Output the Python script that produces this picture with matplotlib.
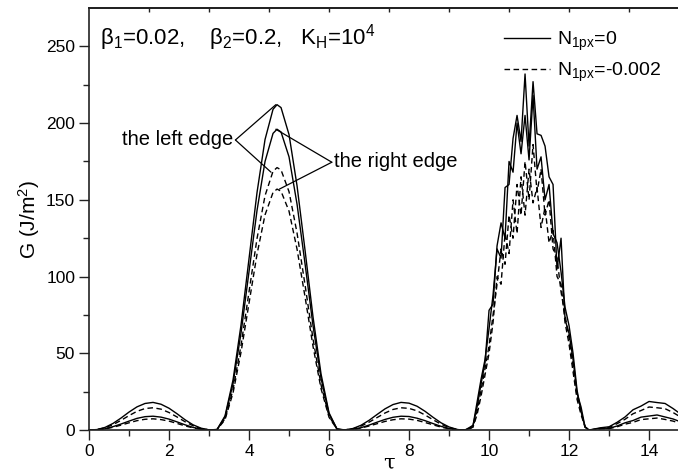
import numpy as np
import matplotlib
matplotlib.use("Agg")
import matplotlib.pyplot as plt

plt.rcParams['font.family'] = ['Liberation Sans', 'DejaVu Sans']
plt.rcParams['mathtext.fontset'] = 'custom'
plt.rcParams['mathtext.rm'] = 'Liberation Sans'
plt.rcParams['mathtext.it'] = 'Liberation Sans:italic'
plt.rcParams['mathtext.bf'] = 'Liberation Sans:bold'

# tau grid: coarse on the smooth humps, finer on the noisy one
tau = np.round(np.concatenate([np.arange(0, 4.7, 0.2), [4.7], np.arange(4.8, 9.3, 0.2),
                               np.arange(9.3, 12.85, 0.1), np.arange(13.0, 15.05, 0.2)]), 2)

# N1px = 0, the left edge
g_left_n0 = [0, 0.3, 1.7, 4.3, 7.8, 11.7, 15.1, 17.3, 18.0, 16.8, 14.2, 10.6, 6.7, 3.4, 1.2, 0.1,
             0.3, 9.2, 32.6, 68.5, 111.7, 154.8, 189.3, 209.0, 212.0, 210.1, 192.5, 159.2, 117.2, 73.6, 36.5, 11.2, 0.6,
             0.1, 1.0, 3.1, 6.3, 10.1, 13.8, 16.6, 18.0, 17.5, 15.5, 12.2, 8.3, 4.7, 2.0, 0.4,
             0, 0, 1.5, 3, 18, 33, 46, 66, 88, 118, 112, 158, 160, 190, 205, 188, 232, 185, 227, 193,
             192, 185, 165, 160, 105, 125, 72, 63, 46, 24, 15, 2, 0, 0.5, 1, 1.5,
             2.1, 5.0, 8.5, 13.2, 15.6, 18.6, 17.9, 17.3, 14.0, 10.2, 6.3]
# N1px = 0, the right edge
g_right_n0 = [0, 0.2, 0.8, 2.2, 3.9, 5.8, 7.6, 8.7, 9.0, 8.4, 7.1, 5.3, 3.4, 1.7, 0.6, 0.1,
              0.3, 8.5, 30.2, 63.3, 103.3, 143.1, 175.0, 193.3, 196.0, 194.2, 178.0, 147.2, 108.4, 68.0, 33.7, 10.4, 0.6,
              0.0, 0.5, 1.5, 3.2, 5.1, 6.9, 8.3, 9.0, 8.8, 7.7, 6.1, 4.2, 2.4, 1.0, 0.2,
              0, 0, 1, 3, 15, 30, 44, 78, 82, 120, 135, 125, 175, 168, 200, 180, 205, 176, 218, 170,
              178, 150, 160, 128, 122, 103, 80, 68, 50, 26, 12, 2, 0, 0.3, 0.8, 1.2,
              1.1, 2.6, 4.7, 6.2, 8.4, 9.1, 9.8, 8.5, 7.2, 5.2, 3.2]
# N1px = -0.002, the left edge
g_left_n2 = [0, 0.3, 1.4, 3.5, 6.3, 9.4, 12.2, 14.0, 14.5, 13.6, 11.4, 8.5, 5.4, 2.8, 0.9, 0.1,
             0.2, 7.4, 26.3, 55.2, 90.1, 124.8, 152.7, 168.6, 171.0, 169.5, 155.3, 128.4, 94.6, 59.3, 29.4, 9.1, 0.5,
             0.1, 0.8, 2.5, 5.1, 8.1, 11.1, 13.4, 14.5, 14.1, 12.5, 9.8, 6.7, 3.8, 1.6, 0.3,
             0, 0, 0.8, 2, 12, 26, 40, 55, 75, 95, 118, 108, 140, 125, 160, 140, 175, 150, 186, 155,
             170, 140, 150, 118, 112, 90, 75, 60, 42, 22, 12, 2, 0, 0.3, 0.6, 1,
             1.7, 4.1, 7.0, 10.6, 12.7, 15.0, 14.5, 13.9, 11.4, 8.3, 5.1]
# N1px = -0.002, the right edge
g_right_n2 = [0, 0.1, 0.7, 1.8, 3.2, 4.7, 6.1, 7.0, 7.3, 6.8, 5.8, 4.3, 2.7, 1.4, 0.5, 0.1,
              0.2, 6.8, 24.2, 50.7, 82.7, 114.6, 140.2, 154.8, 157.0, 155.6, 142.6, 117.9, 86.8, 54.5, 27.0, 8.3, 0.5,
              0.0, 0.4, 1.3, 2.6, 4.1, 5.6, 6.7, 7.3, 7.1, 6.3, 4.9, 3.4, 1.9, 0.8, 0.2,
              0, 0, 0.5, 2, 10, 22, 36, 50, 70, 100, 95, 128, 115, 150, 128, 165, 140, 170, 148, 158,
              132, 145, 122, 130, 100, 95, 70, 56, 38, 20, 10, 2, 0, 0.2, 0.5, 0.8,
              0.9, 2.1, 3.8, 5.0, 6.8, 7.3, 7.8, 6.9, 5.8, 4.2, 2.6]

for s in (g_left_n0, g_right_n0, g_left_n2, g_right_n2):
    assert len(s) == len(tau)

fig = plt.figure(figsize=(6.78, 4.76), dpi=100)
ax = fig.add_axes([0.1313, 0.0966, 0.885, 0.8866])

dash = (0, (4, 2.5))
l1, = ax.plot(tau, g_left_n0, color='black', lw=1.0)
ax.plot(tau, g_right_n0, color='black', lw=1.0)
l2, = ax.plot(tau, g_left_n2, color='black', lw=1.0, linestyle=dash)
ax.plot(tau, g_right_n2, color='black', lw=1.0, linestyle=dash)

ax.set_xlim(0, 15)
ax.set_ylim(0, 275)
ax.set_xticks(np.arange(0, 15, 2))
ax.set_xticks(np.arange(1, 15, 2), minor=True)
ax.set_yticks(np.arange(0, 251, 50))
ax.set_yticks(np.arange(25, 275, 50), minor=True)
ax.tick_params(which='major', direction='out', length=7, width=1.0, labelsize=12.5, pad=3, color='#222222')
ax.tick_params(which='minor', direction='out', length=4, width=1.0, color='#222222')
ax.spines['right'].set_visible(False)
for sp in ('left', 'bottom', 'top'):
    ax.spines[sp].set_linewidth(1.2)
    ax.spines[sp].set_color('#222222')

top = ax.secondary_xaxis('top')
top.set_xticks(np.arange(1.5, 15, 1.5))
top.set_xticklabels([])
top.tick_params(direction='in', length=3, width=1.0, color='#222222')
top.spines['top'].set_linewidth(1.2)

ax.set_ylabel('G (J/m$^\\mathregular{2}$)', fontsize=15, labelpad=3)
ax.set_xlabel('τ', fontsize=15, labelpad=-4, family=['DejaVu Serif'])

ax.text(0.28, 256, 'β$_\\mathregular{1}$=0.02,    β$_\\mathregular{2}$=0.2,   K$_\\mathregular{H}$=10$^\\mathregular{4}$',
        fontsize=16, va='center', ha='left')

ax.legend([l1, l2], ['N$_\\mathregular{1px}$=0', 'N$_\\mathregular{1px}$=-0.002'],
          loc='upper left', bbox_to_anchor=(0.662, 0.99), frameon=False, fontsize=14,
          handlelength=2.4, handletextpad=0.35, labelspacing=0.4)

# connector lines from the labels to the peaks of the second hump
big = (tau > 3) & (tau < 6.3)
ib = np.where(big)[0]
peaks = {name: ib[np.argmax(np.asarray(s)[ib])] for name, s in
         [('ln0', g_left_n0), ('rn0', g_right_n0), ('ln2', g_left_n2), ('rn2', g_right_n2)]}
line_kw = dict(arrowstyle='-', lw=0.9, color='black', shrinkA=0, shrinkB=0)
ax.text(3.6, 189, 'the left edge', fontsize=14.5, ha='right', va='center')
ax.annotate('', xy=(tau[peaks['ln0']] - 0.03, g_left_n0[peaks['ln0']]), xytext=(3.66, 189), arrowprops=line_kw)
ax.annotate('', xy=(tau[peaks['ln2']] - 0.15, g_left_n2[peaks['ln2']] - 3), xytext=(3.66, 189), arrowprops=line_kw)
ax.text(6.12, 175, 'the right edge', fontsize=14.5, ha='left', va='center')
ax.annotate('', xy=(tau[peaks['rn0']] - 0.03, g_right_n0[peaks['rn0']]), xytext=(6.07, 174.5), arrowprops=line_kw)
ax.annotate('', xy=(tau[peaks['rn2']] + 0.06, g_right_n2[peaks['rn2']]), xytext=(6.07, 174.5), arrowprops=line_kw)

fig.savefig('out.png', dpi=100)
